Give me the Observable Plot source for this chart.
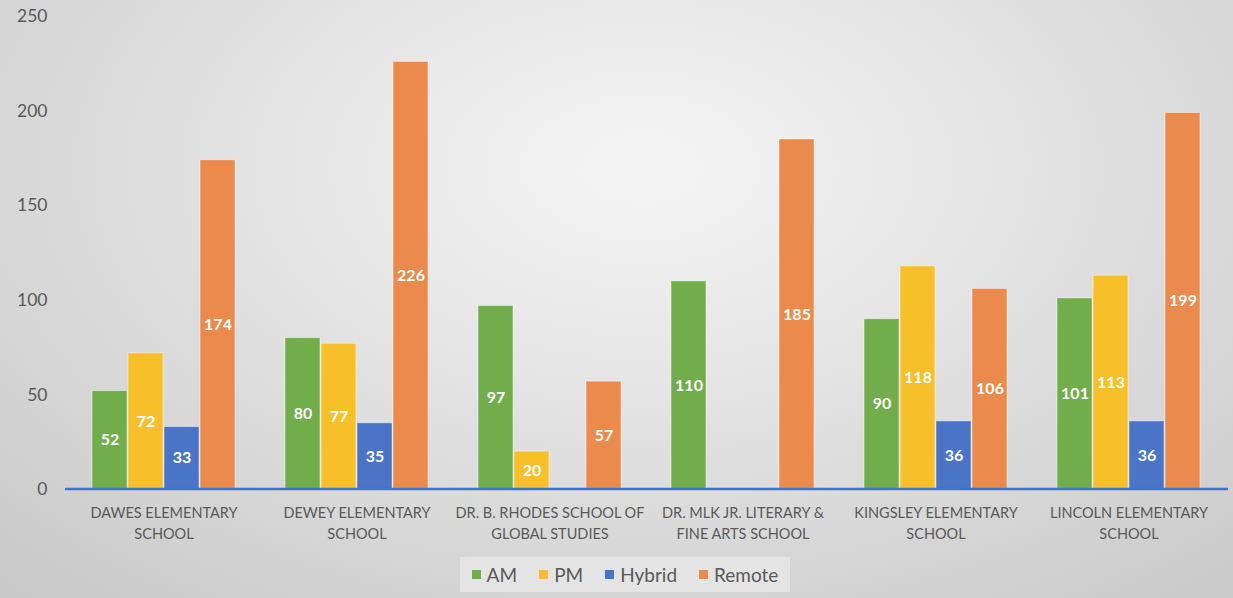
<!DOCTYPE html>
<html>
<head>
<meta charset="utf-8">
<script src="https://cdn.jsdelivr.net/npm/d3@7"></script>
<script src="https://cdn.jsdelivr.net/npm/@observablehq/plot@0.6"></script>
<style>
  html, body { margin: 0; padding: 0; }
  body {
    width: 1233px; height: 598px; overflow: hidden;
    background: radial-gradient(ellipse 75% 95% at 52% 28%, #f5f5f5 0%, #e2e2e2 45%, #c9c9c9 100%);
    font-family: Lato, "Noto Sans", sans-serif;
  }
  #legend {
    position: absolute; left: 460px; top: 557px; width: 330px; height: 35px;
    display: flex; align-items: center; justify-content: center; gap: 22px;
    background: rgba(240,240,240,0.55);
    font-size: 19px; color: #595959;
  }
  #legend .item { display: flex; align-items: center; gap: 6px; }
  #legend .sw { width: 9px; height: 9px; display: inline-block; }
</style>
</head>
<body>
<div id="chart"></div>
<div id="legend"></div>
<script>
const schools = [
  "Dawes Elementary School",
  "Dewey Elementary School",
  "Dr. B. Rhodes School of Global Studies",
  "Dr. MLK Jr. Literary & Fine Arts School",
  "Kingsley Elementary School",
  "Lincoln Elementary School"
];
const tickLabels = [
  "DAWES ELEMENTARY\nSCHOOL",
  "DEWEY ELEMENTARY\nSCHOOL",
  "DR. B. RHODES SCHOOL OF\nGLOBAL STUDIES",
  "DR. MLK JR. LITERARY &\nFINE ARTS SCHOOL",
  "KINGSLEY ELEMENTARY\nSCHOOL",
  "LINCOLN ELEMENTARY\nSCHOOL"
];
const series = ["AM", "PM", "Hybrid", "Remote"];
const colors = ["#72ad4c", "#f7c02a", "#4a74c6", "#ea8a4c"];
const am = [52, 80, 97, 110, 90, 101];
const pm = [72, 77, 20, 0, 118, 113];
const hybrid = [33, 35, 0, 0, 36, 36];
const remote = [174, 226, 57, 185, 106, 199];
const yTicks = [0, 50, 100, 150, 200, 250];

const values = [am, pm, hybrid, remote];
const data = [];
schools.forEach((s, i) => {
  series.forEach((t, j) => data.push({school: s, type: t, value: values[j][i]}));
});

const W = 1233, H = 550;
const chart = Plot.plot({
  width: W,
  height: H,
  marginLeft: 65,
  marginRight: 5,
  marginTop: 16,
  marginBottom: 61,
  style: {background: "transparent", fontFamily: "Lato, 'Noto Sans', sans-serif", overflow: "visible"},
  fx: {domain: schools, paddingInner: 0.257, paddingOuter: 0.13, label: null, axis: null},
  x: {domain: series, paddingInner: 0.035, paddingOuter: 0, axis: null},
  y: {domain: [0, 250], label: null, axis: null},
  color: {domain: series, range: colors},
  marks: [
    Plot.axisY({ticks: yTicks, tickSize: 0, tickPadding: 45, fontSize: 17.5, fill: "#595959", label: null}),
    Plot.axisFx({anchor: "bottom", tickSize: 0, tickPadding: 14, fontSize: 14.5, fill: "#595959", lineHeight: 1.45,
      tickFormat: d => tickLabels[schools.indexOf(d)], label: null}),
    Plot.barY(data.filter(d => d.value > 0), {fx: "school", x: "type", y: "value", fill: "type",
      stroke: "#ffffff", strokeOpacity: 0.45, strokeWidth: 1}),
    Plot.text(data.filter(d => d.value > 0), {fx: "school", x: "type", y: d => d.value / 2,
      text: d => String(d.value), fill: "#ffffff", fontWeight: "bold", fontSize: 16})
  ]
});
document.getElementById("chart").appendChild(chart);

// continuous category axis line across the whole frame
const fx = chart.scale("fx"), y = chart.scale("y");
d3.select(chart).append("line")
  .attr("x1", fx.range[0]).attr("x2", fx.range[1])
  .attr("y1", y.apply(0)).attr("y2", y.apply(0))
  .attr("stroke", "#4472c4").attr("stroke-width", 2.5);

const legend = d3.select("#legend");
series.forEach((s, i) => {
  const it = legend.append("div").attr("class", "item");
  it.append("span").attr("class", "sw").style("background", colors[i]);
  it.append("span").text(s);
});
</script>
</body>
</html>
